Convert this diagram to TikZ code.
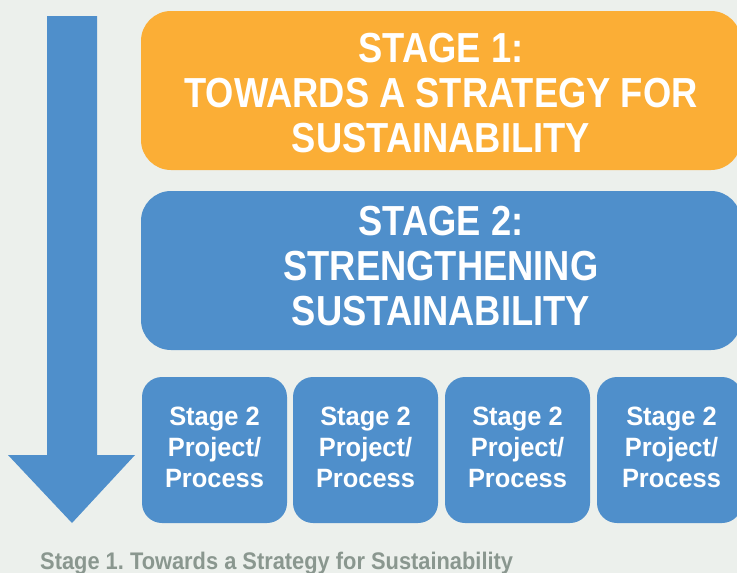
\documentclass[tikz,border=0pt]{standalone}
\usepackage{fontspec}
\newfontfamily\bigf{Liberation Sans}[FakeStretch=0.865]
\newfontfamily\smallf{Liberation Sans}[FakeStretch=0.96]
\newfontfamily\capf{Liberation Sans}[FakeStretch=0.91]
\definecolor{bg}{HTML}{ECF0EC}
\definecolor{orng}{HTML}{FBAE36}
\definecolor{blu}{HTML}{4F8FCB}
\definecolor{capgray}{HTML}{8A978F}
\tikzset{
  bigbox/.style={fill=#1, draw=none, rounded corners=30pt, minimum width=600pt, minimum height=159pt, inner sep=0pt},
  bigtext/.style={inner sep=0pt, text=white, align=center, font=\bigf\bfseries\fontsize{42}{45}\selectfont},
  smallbox/.style={fill=blu, draw=none, rounded corners=20pt, minimum width=145pt, minimum height=146pt, inner sep=0pt},
  smalltext/.style={inner sep=0pt, text=white, align=center, font=\smallf\bfseries\fontsize{26.5}{31}\selectfont},
  arrowshape/.style={fill=blu, draw=none}
}
\begin{document}
\frenchspacing
\begin{tikzpicture}[x=1pt,y=-1pt]
\fill[bg] (0,0) rectangle (737,573);
\useasboundingbox (0,0) rectangle (737,573);
\fill[arrowshape] (47,16) -- (97,16) -- (97,455) -- (135,455) -- (72,523) -- (8,455) -- (47,455) -- cycle;
\node[bigbox=orng] (s1) at (441,90.5) {};
\node[bigtext] (s1t) at (441,93) {STAGE 1:\\TOWARDS A STRATEGY FOR\\SUSTAINABILITY};
\node[bigbox=blu] (s2) at (441,270.5) {};
\node[bigtext] (s2t) at (441,266.5) {STAGE 2:\\STRENGTHENING\\SUSTAINABILITY};
\foreach \i/\x/\tx in {1/214.5/214.5, 2/365.5/365.5, 3/517.5/517.5, 4/669.5/671.5}{
  \node[smallbox] (p\i) at (\x,450) {};
  \node[smalltext] (p\i t) at (\tx,447.5) {Stage 2\\Project/\\Process};
}
\node[anchor=base west, inner sep=0pt, text=capgray, font=\capf\bfseries\fontsize{24}{26}\selectfont] (cap) at (40,569) {Stage 1.\ Towards a Strategy for Sustainability};
\end{tikzpicture}
\end{document}
